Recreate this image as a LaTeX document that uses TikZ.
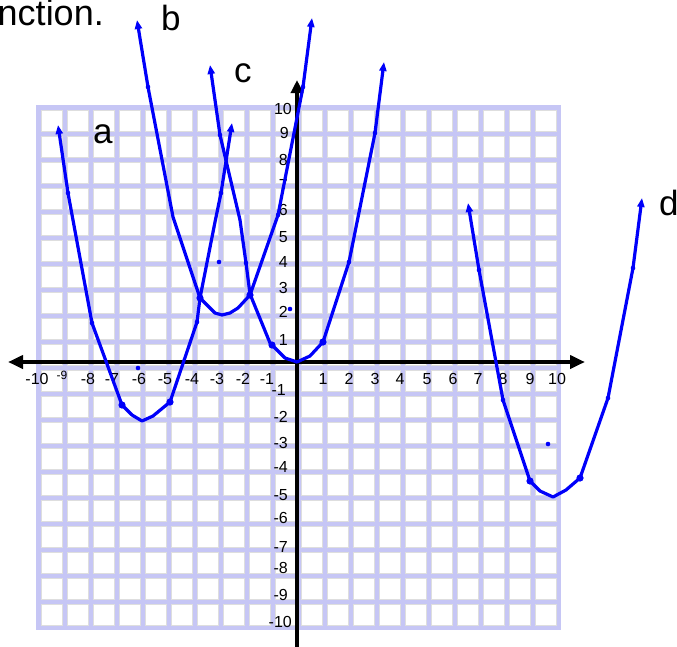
\documentclass[tikz,border=0pt]{standalone}
\usepackage{fontspec}
\setmainfont{Liberation Sans}
\usetikzlibrary{arrows.meta}
\definecolor{cblue}{RGB}{0,0,250}
\definecolor{lav}{RGB}{198,198,245}
\definecolor{cellb}{RGB}{222,222,222}
\tikzset{
 curve/.style={cblue, line width=3.2pt, line join=round, {Triangle[length=9pt,width=7pt]}-{Triangle[length=9pt,width=7pt]}},
 axisline/.style={black, line width=4pt},
 ylab/.style={anchor=east, inner sep=0pt, font=\fontsize{16}{16}\selectfont},
 xlab/.style={anchor=center, inner sep=0pt, font=\fontsize{16}{16}\selectfont},
 biglab/.style={anchor=base west, inner sep=0pt, font=\fontsize{35}{35}\selectfont},
 cellbox/.style={draw=cellb, line width=0.8pt, fill=white}
}
\begin{document}
\begin{tikzpicture}[x=1pt,y=-1pt]
\useasboundingbox (0,0) rectangle (677,646);
\fill[white] (0,0) rectangle (677,646);
% grid
\fill[lav] (36,105) rectangle (561,630);
\foreach \i in {0,...,19} {
  \foreach \j in {0,...,19} {
    \draw[cellbox] ({41.2+26*\i},{110.2+26*\j}) rectangle ++(21,21);
  }
}
% top text
\node[anchor=base east, inner sep=0pt, font=\fontsize{36}{36}\selectfont] (title) at (104,25) {function.};
% axes
\coordinate (xl) at (8,362);
\coordinate (xr) at (585,362);
\coordinate (yt) at (297,80);
\coordinate (yb) at (297,662);
\draw[axisline, {Triangle[length=15pt,width=13pt]}-{Triangle[length=15pt,width=13pt]}] (xl) -- (xr);
\draw[axisline, {Triangle[length=13pt,width=12pt]}-{Triangle[length=13pt,width=12pt]}] (yb) -- (yt);
% y labels
\node[ylab] (y10) at (292,109) {10};
\node[ylab] (y9) at (289,133) {9};
\node[ylab] (y8) at (288,160) {8};
\node[ylab] (y7) at (288,185) {7};
\node[ylab] (y6) at (288,210) {6};
\node[ylab] (y5) at (288,237) {5};
\node[ylab] (y4) at (288,262) {4};
\node[ylab] (y3) at (288,288) {3};
\node[ylab] (y2) at (288,312) {2};
\node[ylab] (y1) at (288,340) {1};
\node[ylab] (ym1) at (286,390) {-1};
\node[ylab] (ym2) at (288,417) {-2};
\node[ylab] (ym3) at (288,443) {-3};
\node[ylab] (ym4) at (288,467) {-4};
\node[ylab] (ym5) at (288,495) {-5};
\node[ylab] (ym6) at (288,518) {-6};
\node[ylab] (ym7) at (288,547) {-7};
\node[ylab] (ym8) at (288,568) {-8};
\node[ylab] (ym9) at (288,595) {-9};
\node[ylab] (ym10) at (292,622) {-10};
% x labels
\node[xlab] (xm10) at (37,379) {-10};
\node[xlab, font=\fontsize{12}{12}\selectfont] (xm9) at (62,375) {-9};
\node[xlab] (xm8) at (88,379) {-8};
\node[xlab] (xm7) at (112,379) {-7};
\node[xlab] (xm6) at (139,379) {-6};
\node[xlab] (xm5) at (165,379) {-5};
\node[xlab] (xm4) at (192,379) {-4};
\node[xlab] (xm3) at (217,379) {-3};
\node[xlab] (xm2) at (243,379) {-2};
\node[xlab] (xm1) at (267,379) {-1};
\node[xlab] (x1) at (323,379) {1};
\node[xlab] (x2) at (349,379) {2};
\node[xlab] (x3) at (375,379) {3};
\node[xlab] (x4) at (400,379) {4};
\node[xlab] (x5) at (427,379) {5};
\node[xlab] (x6) at (453,379) {6};
\node[xlab] (x7) at (478,379) {7};
\node[xlab] (x8) at (503,379) {8};
\node[xlab] (x9) at (530,379) {9};
\node[xlab] (x10) at (557,379) {10};
% curve a
\draw[curve] (58,125) -- (68,193) -- (92,323) -- (122,405) -- (132,415) -- (142,421) -- (153,416) -- (170,402) -- (197,322) -- (200,298) -- (215,222) -- (221,193) -- (232,123);
% curve b
\draw[curve] (137,20) -- (148,87) -- (173,217) -- (200,298) -- (208,306) -- (215,313) -- (222,315) -- (230,313) -- (238,308) -- (250,295) -- (278,215) -- (303,87) -- (312,18);
% curve c
\draw[curve] (210,65) -- (220,135) -- (240,220) -- (246,263) -- (250,294) -- (270,343) -- (285,358) -- (297,362) -- (310,356) -- (323,342) -- (349,262) -- (375,133) -- (384,62);
% curve d
\draw[curve] (468,203) -- (479,270) -- (503,400) -- (530,481) -- (540,491) -- (553,497) -- (566,490) -- (580,478) -- (608,398) -- (633,268) -- (642,198);
% dots
\foreach \p in {(68,193),(92,323),(197,322),(221,193),(148,87),(278,215),(303,87),(220,135),(246,263),(349,262),(375,133),(479,270),(503,400),(608,398),(633,268),(138,368),(290,309),(219,262),(548,444)}
  \fill[cblue] \p circle (2.3pt);
% markers
\foreach \p in {(122,405),(170,402),(200,298),(250,295),(272,345),(323,342),(530,481),(580,478)}
  \fill[cblue] \p circle (3.6pt);
% letters
\node[biglab] (la) at (93,143) {a};
\node[biglab] (lb) at (161,30) {b};
\node[biglab] (lc) at (234,82) {c};
\node[biglab] (ld) at (659,215) {d};
\end{tikzpicture}
\end{document}
